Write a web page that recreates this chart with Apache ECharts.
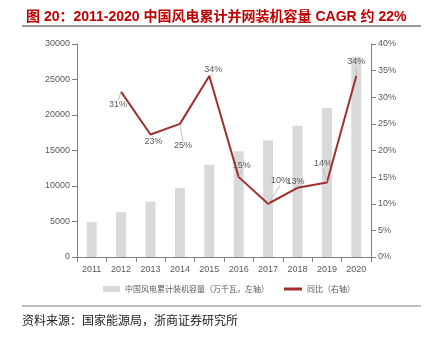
<!DOCTYPE html>
<html>
<head>
<meta charset="utf-8">
<script src="https://cdn.jsdelivr.net/npm/echarts@6/dist/echarts.min.js"></script>
<style>
  html, body { margin: 0; padding: 0; background: #fff; }
  #chart { width: 432px; height: 341px; }
</style>
</head>
<body>
<div id="chart"></div>
<script>
// Years on the category axis
const years = ['2011', '2012', '2013', '2014', '2015', '2016', '2017', '2018', '2019', '2020'];
// Cumulative grid-connected wind capacity, 10k kW (left axis)
const capacity = [4900, 6300, 7800, 9700, 13000, 14900, 16400, 18500, 21000, 28200];
// Year-on-year growth, % (right axis); no value for the first year
const growth = [null, 31, 23, 25, 34, 15, 10, 13, 14, 34];
// Label nudges for each growth point (dx, dy in pixels)
const labelShift = [null, [-3, 13], [3, 7], [3, 22], [4, -6], [3, -12], [12, -23], [-2, -6], [-4, -19], [0, -14]];

const leftTicks = { min: 0, max: 30000, interval: 5000 };
const rightTicks = { min: 0, max: 40, interval: 5 };

const barName = '中国风电累计装机容量（万千瓦，左轴）';
const lineName = '同比（右轴）';

const grey = '#7f7f7f';
const labelGrey = '#595959';
const font = 'Arial, "Liberation Sans", "Noto Sans CJK SC", sans-serif';
const legendText = { color: labelGrey, fontSize: 8, fontFamily: '"Noto Sans CJK SC", sans-serif' };

const chart = echarts.init(document.getElementById('chart'), null, { renderer: 'canvas' });

chart.setOption({
  animation: false,
  backgroundColor: '#fff',
  title: {
    text: '图 20：2011-2020 中国风电累计并网装机容量 CAGR 约 22%',
    left: 21,
    top: 5,
    textStyle: { color: '#c00000', fontSize: 14, fontWeight: 'bold', fontFamily: font }
  },
  graphic: [
    { type: 'line', shape: { x1: 22, y1: 26, x2: 421, y2: 26 }, style: { stroke: '#333', lineWidth: 1 } },
    { type: 'line', shape: { x1: 22, y1: 306, x2: 421, y2: 306 }, style: { stroke: '#808080', lineWidth: 1 } },
    {
      type: 'text', left: 22, top: 314,
      style: { text: '资料来源：国家能源局，浙商证券研究所', fill: '#222', font: '12px "Noto Sans CJK SC", sans-serif' }
    }
  ],
  grid: { left: 77, right: 61, top: 44, bottom: 84 },
  legend: [
    {
      top: 280, left: 98,
      itemWidth: 17, itemHeight: 6, itemGap: 3,
      textStyle: legendText,
      data: [{ name: barName, icon: 'rect' }]
    },
    {
      top: 280, left: 279,
      itemWidth: 18, itemHeight: 3, itemGap: 3,
      textStyle: legendText,
      data: [{ name: lineName, icon: 'rect' }]
    }
  ],
  xAxis: {
    type: 'category',
    data: years,
    axisLine: { lineStyle: { color: grey, width: 1 } },
    axisTick: { show: true, lineStyle: { color: grey } },
    axisLabel: { color: labelGrey, fontSize: 9, fontFamily: font, margin: 8 }
  },
  yAxis: [
    {
      type: 'value',
      min: leftTicks.min, max: leftTicks.max, interval: leftTicks.interval,
      axisLine: { show: true, lineStyle: { color: grey } },
      axisTick: { show: true, lineStyle: { color: grey } },
      splitLine: { show: false },
      axisLabel: { color: labelGrey, fontSize: 9, fontFamily: font, margin: 7, formatter: v => String(v) }
    },
    {
      type: 'value',
      min: rightTicks.min, max: rightTicks.max, interval: rightTicks.interval,
      position: 'right',
      axisLine: { show: true, lineStyle: { color: grey } },
      axisTick: { show: true, lineStyle: { color: grey } },
      splitLine: { show: false },
      axisLabel: { color: labelGrey, fontSize: 9, fontFamily: font, margin: 7, formatter: v => v + '%' }
    }
  ],
  series: [
    {
      name: barName,
      type: 'bar',
      yAxisIndex: 0,
      data: capacity,
      barWidth: 10,
      itemStyle: { color: '#d9d9d9' }
    },
    {
      name: lineName,
      type: 'line',
      yAxisIndex: 1,
      data: growth,
      symbol: 'circle',
      symbolSize: 1,
      showSymbol: true,
      connectNulls: false,
      lineStyle: { color: '#a0302f', width: 2 },
      itemStyle: { color: '#a0302f' },
      label: {
        show: true,
        position: 'inside',
        color: labelGrey,
        fontSize: 9,
        fontFamily: font,
        formatter: p => p.value + '%'
      },
      labelLine: { show: true, lineStyle: { color: '#bfbfbf', width: 1 } },
      labelLayout: function (params) {
        const s = labelShift[params.dataIndex];
        if (!s) return {};
        return { dx: s[0], dy: s[1] };
      }
    }
  ]
});
</script>
</body>
</html>
